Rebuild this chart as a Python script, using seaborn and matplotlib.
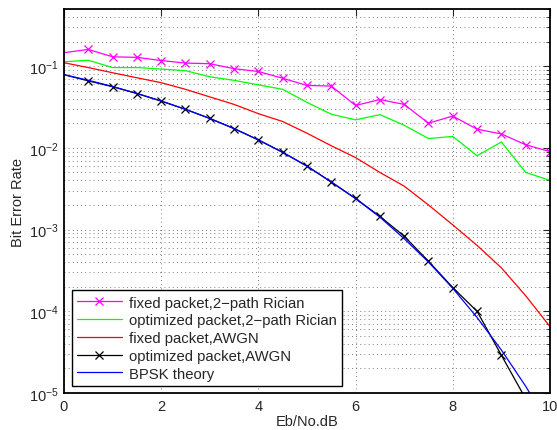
import numpy as np
import pandas as pd
import matplotlib
matplotlib.use("Agg")
import matplotlib.pyplot as plt
import matplotlib.ticker as mticker
import seaborn as sns

# Eb/No points (dB)
ebno = [0, 0.5, 1, 1.5, 2, 2.5, 3, 3.5, 4, 4.5, 5, 5.5, 6, 6.5, 7, 7.5, 8, 8.5, 9, 9.5, 10]

# BER values
fixed_rician = [0.146, 0.160, 0.130, 0.128, 0.117, 0.109, 0.107, 0.093, 0.086, 0.071, 0.058,
                0.057, 0.033, 0.039, 0.034, 0.020, 0.0245, 0.0169, 0.0148, 0.0109, 0.0090]
opt_rician = [0.113, 0.118, 0.096, 0.096, 0.092, 0.088, 0.074, 0.067, 0.059, 0.052, 0.036,
              0.0258, 0.022, 0.0255, 0.0189, 0.0130, 0.0138, 0.0080, 0.0118, 0.0050, 0.0040]
fixed_awgn = [0.110, 0.096, 0.083, 0.072, 0.0627, 0.052, 0.042, 0.034, 0.0262, 0.021, 0.0151,
              0.0106, 0.0076, 0.0050, 0.0034, 0.0020, 0.00114, 0.00064, 0.00034, 0.000155, 0.000065]
opt_awgn = [0.0786, 0.0660, 0.0560, 0.0462, 0.0373, 0.0296, 0.0229, 0.0172, 0.0125, 0.0088, 0.0060,
            0.0038, 0.00240, 0.00145, 0.00083, 0.00041, 0.000195, 0.000100, 0.000029, 0.0000085, 0.0000015]
bpsk_theory = [0.0786, 0.0671, 0.0563, 0.0464, 0.0375, 0.0296, 0.0229, 0.0172, 0.0125, 0.00882, 0.00595,
               0.00384, 0.00239, 0.00142, 0.000773, 0.000401, 0.000191, 0.0000840, 0.0000336, 0.0000121, 0.00000387]

labels = ["fixed packet,2\u2212path Rician", "optimized packet,2\u2212path Rician",
          "fixed packet,AWGN", "optimized packet,AWGN", "BPSK theory"]
colors = ["#ff00ff", "#00ff00", "#ff0000", "#000000", "#0000ff"]
series = [fixed_rician, opt_rician, fixed_awgn, opt_awgn, bpsk_theory]
markers = ["x", None, None, "x", None]

sns.set_style("white")
plt.rcParams["font.family"] = ["Liberation Sans", "DejaVu Sans"]
plt.rcParams["mathtext.fontset"] = "custom"
plt.rcParams["mathtext.rm"] = "Liberation Sans"
plt.rcParams["font.size"] = 10.5

fig = plt.figure(figsize=(5.57, 4.31), dpi=100)
ax = fig.add_axes([0.1149, 0.0858, 0.8725, 0.891])

for vals, lab, col, mk in zip(series, labels, colors, markers):
    kw = {}
    if mk:
        kw = dict(marker=mk, markersize=5.5, markeredgewidth=0.9, markeredgecolor=col,
                  markevery=slice(1, None))
    sns.lineplot(x=ebno, y=vals, ax=ax, color=col, linewidth=0.9, label=lab, **kw)

ax.set_yscale("log")
ax.set_xlim(0, 10)
ax.set_ylim(1e-5, 0.5)
ax.set_xticks([0, 2, 4, 6, 8, 10])
ax.yaxis.set_major_locator(mticker.LogLocator(base=10, numticks=10))
ax.yaxis.set_minor_locator(mticker.LogLocator(base=10, subs=np.arange(2, 10), numticks=100))
ax.yaxis.set_minor_formatter(mticker.NullFormatter())

dots = (0, (1, 4))
ax.grid(True, which="major", axis="both", linestyle=dots, color="#555555", linewidth=0.6)
ax.grid(True, which="minor", axis="y", linestyle=dots, color="#555555", linewidth=0.6)
ax.set_axisbelow(True)

ax.tick_params(which="both", direction="in", top=True, right=True, labelsize=10.5, pad=4)
ax.tick_params(which="major", length=5, width=0.8)
ax.tick_params(which="minor", length=3, width=0.6)
for s in ax.spines.values():
    s.set_linewidth(1.3)
    s.set_color("black")

ax.set_xlabel("Eb/No.dB", fontsize=10.5, labelpad=1)
ax.set_ylabel("Bit Error Rate", fontsize=10.5, labelpad=3)

leg = ax.legend(loc="lower left", bbox_to_anchor=(0.016, 0.019), borderaxespad=0,
                fancybox=False, edgecolor="black", framealpha=1, fontsize=10.7,
                handlelength=3.0, handletextpad=0.5, labelspacing=0.25, borderpad=0.35)
leg.get_frame().set_linewidth(1.0)

fig.savefig("out.png", dpi=100)
